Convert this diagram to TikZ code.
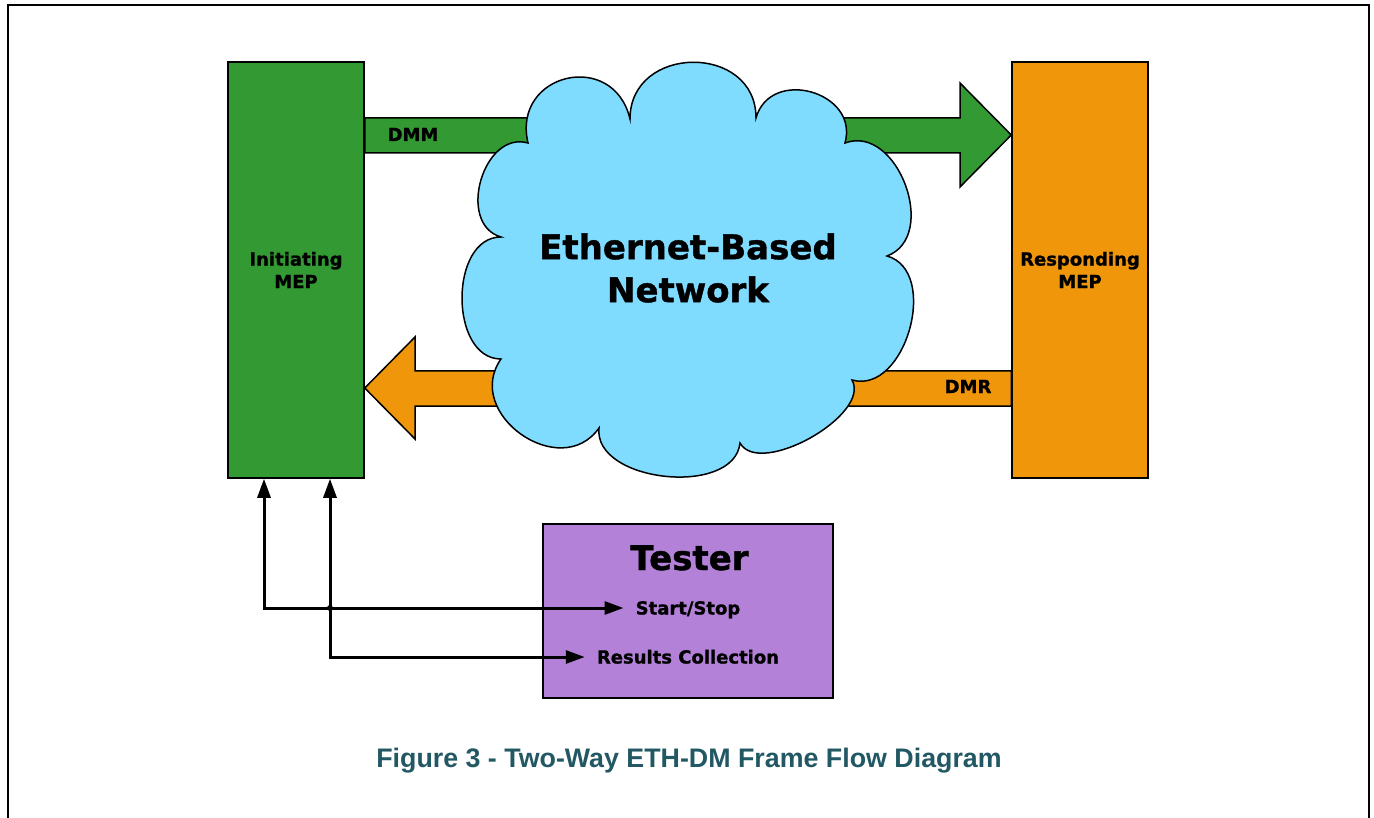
\documentclass[tikz,border=0pt]{standalone}
\usepackage{fontspec}
\setmainfont{DejaVu Sans}[BoldFeatures={FakeBold=1.2}]
\newfontfamily\capfont{Liberation Sans}
\usetikzlibrary{arrows.meta}
\definecolor{mepgreen}{RGB}{51,153,51}
\definecolor{meporange}{RGB}{240,150,10}
\definecolor{netblue}{RGB}{128,220,255}
\definecolor{testpurple}{RGB}{179,130,216}
\definecolor{capteal}{RGB}{33,88,99}
\tikzset{mep/.style={draw=black, line width=1.5pt, minimum width=136pt,
  minimum height=416pt, inner sep=0pt, align=center,
  font=\bfseries\fontsize{18}{22.5}\selectfont}}
\tikzset{flowarrow/.style={draw=black, line width=1.5pt, line join=miter}}
\tikzset{lbl/.style={font=\bfseries\fontsize{18}{22}\selectfont, inner sep=0pt}}
\tikzset{ctrl/.style={line width=3pt, {Triangle[length=19pt,width=13pt]}-{Triangle[length=19pt,width=13pt]}}}

\begin{document}
\begin{tikzpicture}[x=1pt, y=-1pt,
  tlabel/.style={lbl, inner xsep=12pt, text height=13pt, text depth=0pt},
  big/.style={font=\bfseries\fontsize{34}{43}\selectfont, align=center, inner sep=0pt}]
\useasboundingbox (0,0) rectangle (1374,818);
\draw[line width=2pt] (8,830) -- (8,5) -- (1369,5) -- (1369,830);

\node[mep, fill=mepgreen] (init) at (296,270) {Initiating\\MEP};
\node[mep, fill=meporange] (resp) at (1080,270) {Responding\\MEP};
\node[draw=black, line width=1.5pt, fill=testpurple, minimum width=290pt,
  minimum height=174pt] (tester) at (688,611) {};

\draw[flowarrow, fill=mepgreen] (init.east |- 0,118) -- (960,118) -- (960,83)
  -- (resp.west |- 0,135) -- (960,187) -- (960,153) -- (init.east |- 0,153) -- cycle;
\draw[flowarrow, fill=meporange] (resp.west |- 0,371) -- (415,371) -- (415,337)
  -- (init.east |- 0,388) -- (415,439) -- (415,406) -- (resp.west |- 0,406) -- cycle;

\draw[line width=1.5pt, fill=netblue] (528,143)
  .. controls (511.5,73) and (613.5,49) .. (630,119)
  .. controls (630,44) and (756,43) .. (756,118)
  .. controls (770.4,66.7) and (859.4,91.7) .. (845,143)
  .. controls (897.5,123.5) and (939.5,236.5) .. (887,256)
  .. controls (940.4,271.1) and (905.4,395.1) .. (852,380)
  .. controls (871.6,414.9) and (759.6,477.9) .. (740,443)
  .. controls (734.2,497.4) and (593.2,482.4) .. (599,428)
  .. controls (560.6,482.5) and (462.6,413.5) .. (501,359)
  .. controls (449,359) and (449,237) .. (501,237)
  .. controls (456.1,224.1) and (483.1,130.1) .. (528,143) -- cycle;
\node[big] (net) at (688,268) {Ethernet-Based\\Network};

\node[lbl, anchor=base] (dmm) at (413,141) {DMM};
\node[lbl, anchor=base] (dmr) at (968,393) {DMR};

\node[big, anchor=base] (title) at (689.5,570) {Tester};
\node[tlabel] (start) at (688,608) {Start/Stop};
\node[tlabel] (results) at (688,657) {Results Collection};

\coordinate (a1) at ([xshift=-32pt]init.south);
\coordinate (a2) at ([xshift=34pt]init.south);
\draw[ctrl] (a1) |- (start.west);
\draw[ctrl] (a2) |- (results.west);
\fill (a2 |- start.west) circle (3pt);

\node[font=\capfont\bfseries\fontsize{26.8}{30}\selectfont, text=capteal,
  anchor=base] (caption) at (689,767) {Figure 3 - Two-Way ETH-DM Frame Flow Diagram};
\end{tikzpicture}
\end{document}
